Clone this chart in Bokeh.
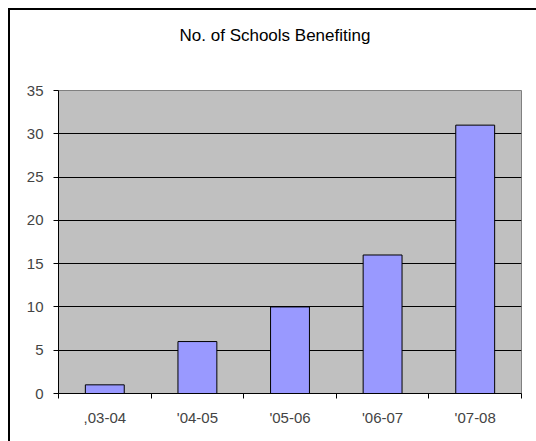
import numpy as np
from bokeh.plotting import figure
from bokeh.models import FixedTicker, Range1d, Div
from bokeh.layouts import column
from bokeh.embed import file_html
from bokeh.resources import INLINE

categories = [",03-04", "'04-05", "'05-06", "'06-07", "'07-08"]
schools = [1, 6, 10, 16, 31]
y_ticks = [0, 5, 10, 15, 20, 25, 30, 35]
title_text = "No. of Schools Benefiting"

FONT = "Liberation Sans"

title = Div(text=f'<div style="display:block;width:520px;padding-top:9px;text-align:center;'
                 f'font-family:\'{FONT}\';font-size:17px;color:black;">{title_text}</div>',
            width=526, height=60)

p = figure(width=526, height=361, output_backend="svg", toolbar_location=None,
           x_range=Range1d(0, len(categories)), y_range=Range1d(0, 35),
           min_border_left=48, min_border_right=15, min_border_bottom=48, min_border_top=10)

p.background_fill_color = "#C0C0C0"
p.border_fill_color = "white"
p.outline_line_color = "#808080"
p.outline_line_width = 1

xs = np.arange(len(categories)) + 0.5
p.vbar(x=xs, top=schools, width=0.42, bottom=0,
       fill_color="#9999FF", line_color="black", line_width=1)

# x axis
xa = p.xaxis[0]
xa.ticker = FixedTicker(ticks=list(xs), minor_ticks=list(range(len(categories) + 1)))
xa.major_label_overrides = {float(x): c for x, c in zip(xs, categories)}
xa.major_tick_line_color = None
xa.minor_tick_in = 0
xa.minor_tick_out = 5
xa.minor_tick_line_color = "black"
xa.axis_line_color = "black"
xa.major_label_text_font = FONT
xa.major_label_text_font_size = "15px"
xa.major_label_standoff = 9

# y axis
ya = p.yaxis[0]
ya.ticker = FixedTicker(ticks=y_ticks)
ya.major_tick_in = 0
ya.major_tick_out = 5
ya.minor_tick_line_color = None
ya.axis_line_color = "black"
ya.major_tick_line_color = "black"
ya.major_label_text_font = FONT
ya.major_label_text_font_size = "15px"
ya.major_label_standoff = 10

p.xgrid.grid_line_color = None
p.ygrid.grid_line_color = "black"
p.ygrid.grid_line_width = 1
p.ygrid.ticker = FixedTicker(ticks=y_ticks)

layout = column(title, p, spacing=0)
layout.styles = {"border-left": "2px solid black", "border-top": "2px solid black",
                 "margin-left": "8px", "margin-top": "8px", "background-color": "white"}

open("out.html", "w").write(file_html(layout, INLINE))
